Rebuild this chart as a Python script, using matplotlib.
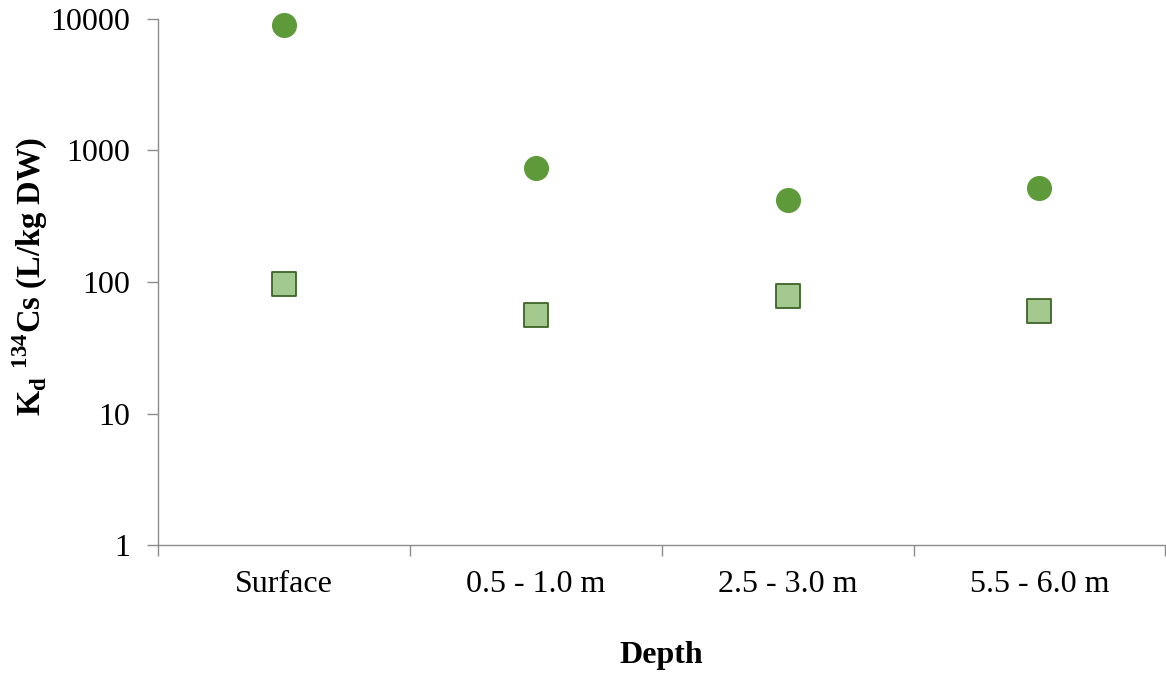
import matplotlib
matplotlib.use("Agg")
import matplotlib.pyplot as plt
from matplotlib.ticker import FixedLocator, NullLocator

plt.rcParams['font.family'] = ['Liberation Serif', 'DejaVu Serif']
plt.rcParams['mathtext.fontset'] = 'custom'
plt.rcParams['mathtext.rm'] = 'Liberation Serif'
plt.rcParams['mathtext.bf'] = 'Liberation Serif:bold'

depths = ['Surface', '0.5 - 1.0 m', '2.5 - 3.0 m', '5.5 - 6.0 m']
kd_circle = [9000, 736, 420, 519]
kd_square = [96, 56, 78, 60]

fig = plt.figure(figsize=(11.66, 6.73), dpi=100)
ax = fig.add_axes([0.1355, 0.19, 0.864, 0.782])

xs = range(len(depths))
ax.scatter(xs, kd_circle, s=290, marker='o', color='#5e9a3a', zorder=3, clip_on=False)
ax.scatter(xs, kd_square, s=280, marker='s', facecolor='#a4c98f',
           edgecolor='#3e6428', linewidth=1.3, zorder=3, clip_on=False)

ax.set_yscale('log')
ax.set_ylim(1, 10000)
ax.set_xlim(-0.5, 3.5)
ax.yaxis.set_major_locator(FixedLocator([1, 10, 100, 1000, 10000]))
ax.yaxis.set_minor_locator(NullLocator())
ax.set_yticklabels(['1', '10', '100', '1000', '10000'])

# category labels sit between the boundary ticks
ax.set_xticks([-0.5, 0.5, 1.5, 2.5, 3.5])
ax.set_xticklabels([])
ax.set_xticks(list(xs), minor=True)
ax.set_xticklabels(depths, minor=True)
ax.tick_params(axis='x', which='major', length=8, width=1, color='#8c8c8c', direction='out')
ax.tick_params(axis='x', which='minor', length=0, pad=18, labelsize=23)
ax.tick_params(axis='y', which='major', length=8, width=1, color='#8c8c8c',
               direction='out', labelsize=23, pad=12)

for side in ['top', 'right']:
    ax.spines[side].set_visible(False)
for side in ['left', 'bottom']:
    ax.spines[side].set_color('#8c8c8c')
    ax.spines[side].set_linewidth(1)

ax.set_xlabel('Depth', fontsize=23, fontweight='bold', labelpad=30)
fig.text(0.026, 0.59, r'K$_{\mathbf{d}}$ $^{\mathbf{134}}$Cs (L/kg DW)', fontsize=23.5,
         fontweight='bold', rotation=90, ha='center', va='center')

fig.savefig('out.png', dpi=100)
